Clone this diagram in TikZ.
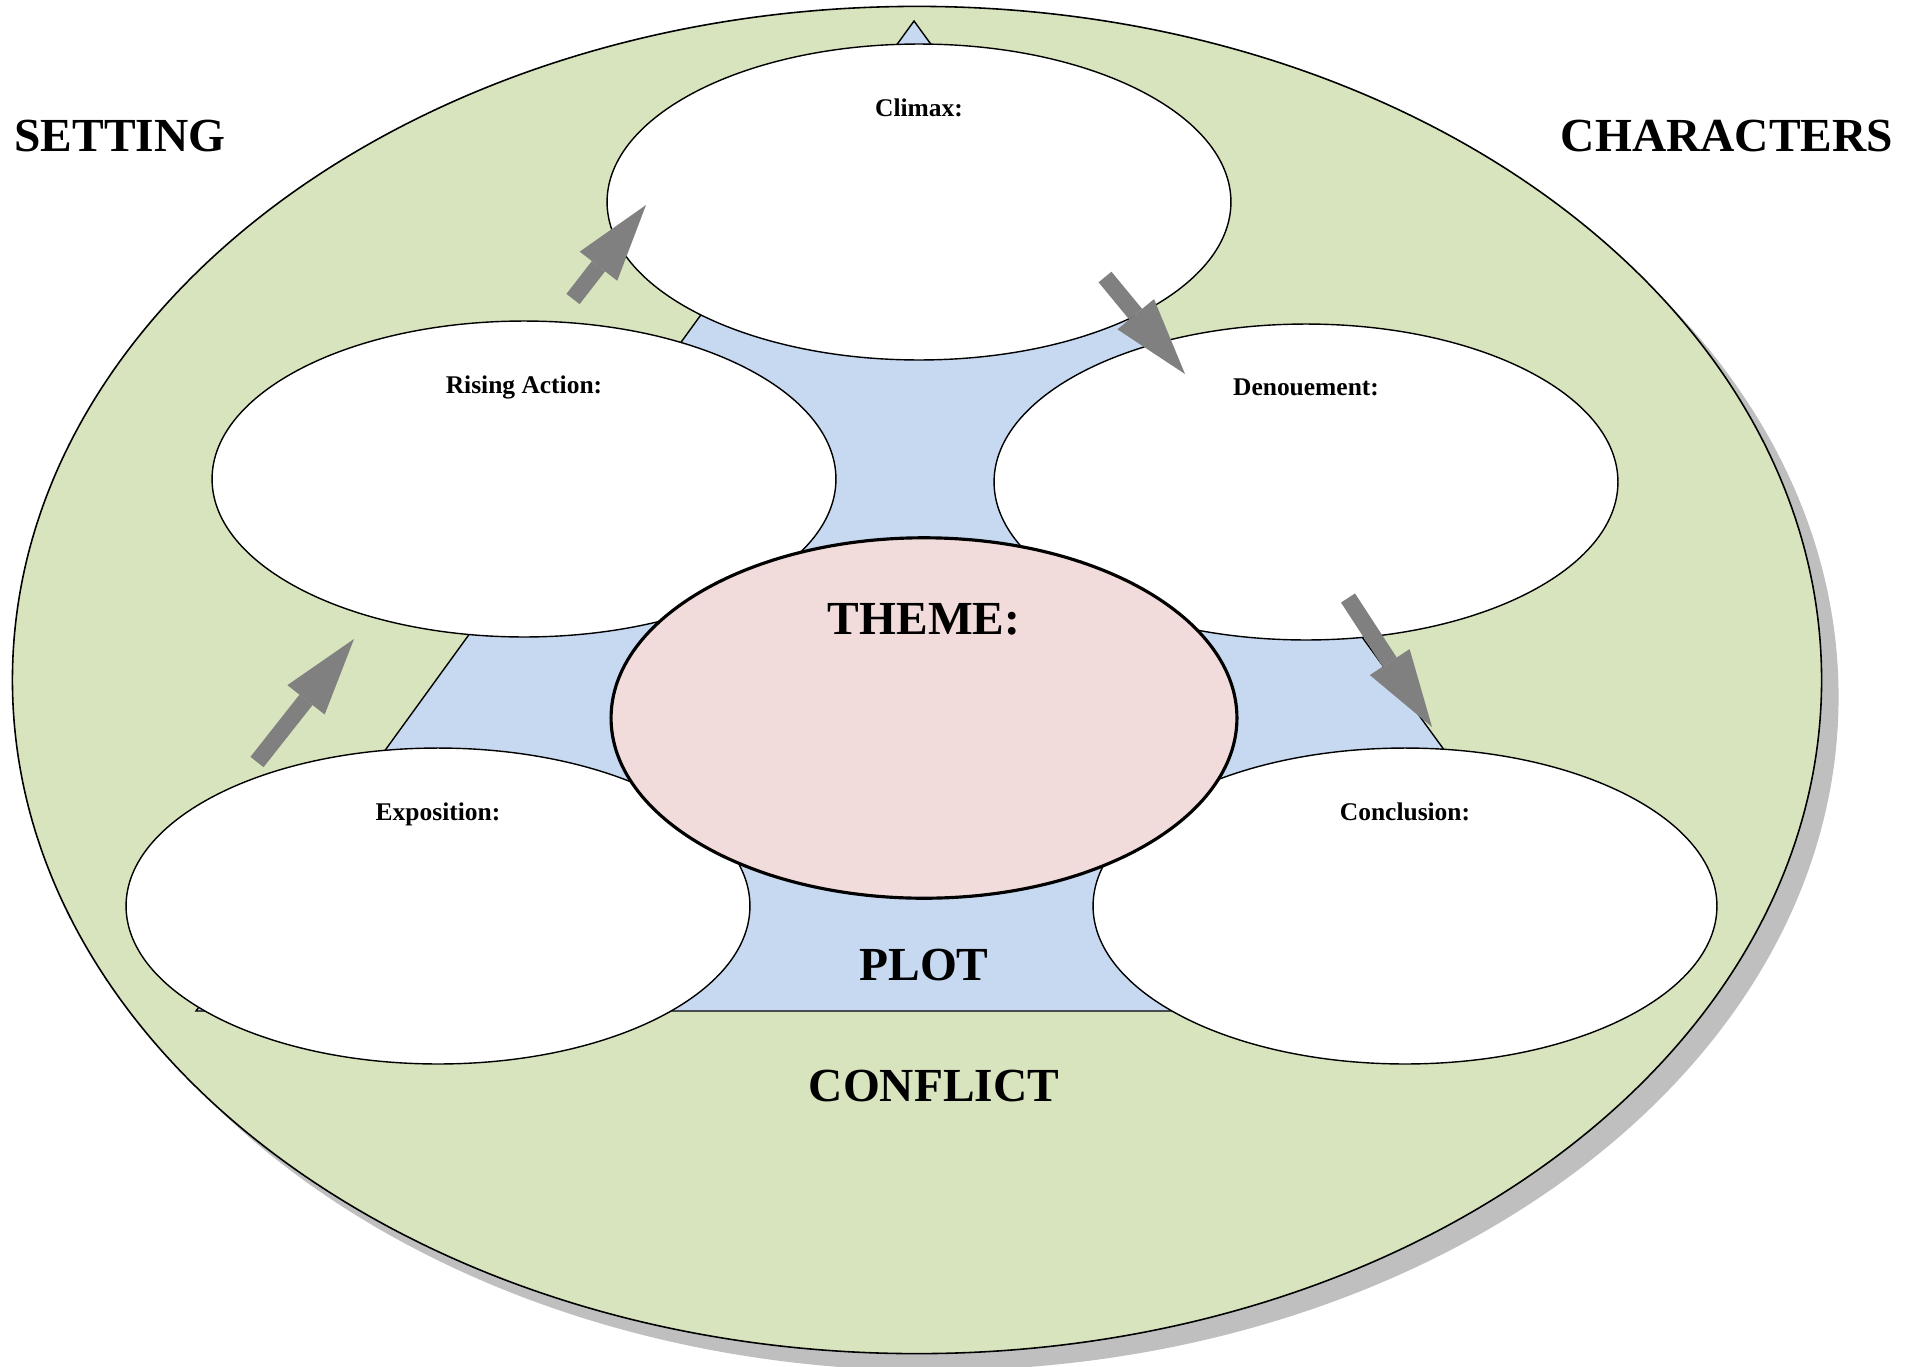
\documentclass[tikz,border=0pt]{standalone}
\usepackage{fontspec}
\setmainfont{Liberation Serif}
\usetikzlibrary{shapes.geometric,arrows.meta,shadows}

\definecolor{ringgreen}{HTML}{D7E4BD}
\definecolor{plotblue}{HTML}{C6D9F1}
\definecolor{themepink}{HTML}{F2DCDB}
\definecolor{arrowgray}{HTML}{808080}
\definecolor{shadegray}{HTML}{BFBFBF}

\tikzset{
  stage/.style={ellipse, draw, fill=white, line width=0.8pt, inner sep=0pt,
                minimum width=12.48cm, minimum height=6.32cm},
  stagelabel/.style={font=\bfseries\fontsize{14.5}{17}\selectfont, text depth=0pt},
  biglabel/.style={font=\bfseries\fontsize{27}{32}\selectfont},
  flow/.style={draw=arrowgray, line width=9.5pt,
               -{Triangle[length=1.55cm, width=0.95cm, line width=0pt]}},
}

\begin{document}
\begin{tikzpicture}[x=0.02cm, y=-0.02cm]
    \useasboundingbox (0,0) rectangle (1916,1366);

    % outer ring
    \node[ellipse, draw, fill=ringgreen, line width=0.9pt, inner sep=0pt,
          minimum width=36.19cm, minimum height=26.95cm,
          drop shadow={shadow xshift=0.34cm, shadow yshift=-0.34cm,
                       fill=shadegray, opacity=1}] (Ring) at (917,680) {};

    % plot triangle
    \coordinate (Top)   at (914,21);
    \coordinate (BaseL) at (196,1011);
    \coordinate (BaseR) at (1634,1011);
    \draw[fill=plotblue, line width=0.8pt] (Top) -- (BaseR) -- (BaseL) -- cycle;

    % stages
    \node[stage] (Cl) at (919,202)  {};
    \node[stage] (Ri) at (524,479)  {};
    \node[stage] (De) at (1306,482) {};
    \node[stage] (Ex) at (438,906)  {};
    \node[stage] (Co) at (1405,906) {};
    \node[ellipse, draw, fill=themepink, line width=1.8pt, inner sep=0pt,
          minimum width=12.52cm, minimum height=7.21cm] (Th) at (924,718) {};

    \node[stagelabel] (ClL) at ([yshift=-1.28cm]Cl.north) {Climax:};
    \node[stagelabel] (RiL) at ([yshift=-1.28cm]Ri.north) {Rising Action:};
    \node[stagelabel] (DeL) at ([yshift=-1.28cm]De.north) {Denouement:};
    \node[stagelabel] (ExL) at ([yshift=-1.28cm]Ex.north) {Exposition:};
    \node[stagelabel] (CoL) at ([yshift=-1.28cm]Co.north) {Conclusion:};

    \node[biglabel] (ThL) at ([yshift=-1.66cm]Th.north) {THEME:};
    \node[biglabel] (Pl)  at (924,965)  {PLOT};
    \node[biglabel] (Cf)  at (934,1086) {CONFLICT};
    \node[biglabel] (Se)  at (120,136)  {SETTING};
    \node[biglabel] (Ch)  at (1727,136) {CHARACTERS};

    % flow arrows
    \coordinate (A1) at (257,762);  \coordinate (B1) at (354,639);
    \coordinate (A2) at (573,299);  \coordinate (B2) at (646,205);
    \coordinate (A3) at (1105,277); \coordinate (B3) at (1185,374);
    \coordinate (A4) at (1348,598); \coordinate (B4) at (1432,727);
    \draw[flow] (A1) -- (B1);
    \draw[flow] (A2) -- (B2);
    \draw[flow] (A3) -- (B3);
    \draw[flow] (A4) -- (B4);
\end{tikzpicture}
\end{document}
